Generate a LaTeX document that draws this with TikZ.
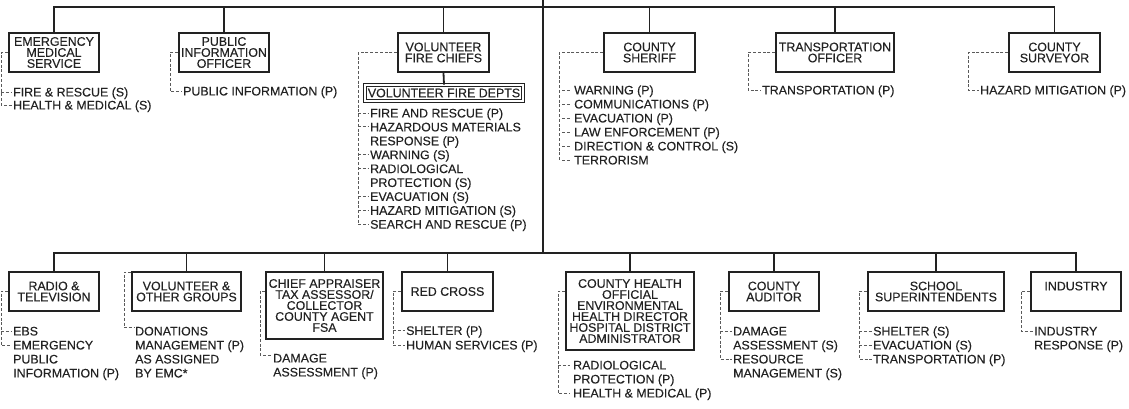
\documentclass[tikz,border=0pt]{standalone}
\usepackage{fontspec}
\setmainfont{Liberation Sans}
\newfontfamily\dfont{Liberation Sans}[FakeBold=0.25]
\usetikzlibrary{calc}
\definecolor{ink}{HTML}{222222}
\definecolor{dgray}{HTML}{5a5a5a}
\tikzset{
  bx/.style={draw=ink, line width=1.8pt, inner sep=0pt, align=center, text=ink,
    font=\dfont\fontsize{12.4}{11}\selectfont},
  itm/.style={anchor=west, inner sep=0pt, text=ink, text height=8.9pt, text depth=0pt,
    font=\dfont\fontsize{12.4}{14}\selectfont},
  bus/.style={draw=ink, line width=1.8pt},
  dsh/.style={draw=dgray, line width=0.9pt, dash pattern=on 3pt off 1.8pt},
}
\newcommand\itemlist[5]{%
  \foreach \t [count=\i from 0] in {#5} {\node[itm] (#1\i) at (#2, {#3+#4*\i}) {\t};}%
}
\begin{document}
\begin{tikzpicture}[x=1pt,y=-1pt]
\useasboundingbox (0,0) rectangle (1129,408);
\coordinate (topbus) at (0,7);
\coordinate (botbus) at (0,253);
\coordinate (ctop) at (543,0);

% top row boxes
\node[bx, minimum width=90pt, minimum height=39pt] (ems) at (54,52.5) {EMERGENCY\\MEDICAL\\SERVICE};
\node[bx, minimum width=90pt, minimum height=39pt] (pio) at (224,52.5) {PUBLIC\\INFORMATION\\OFFICER};
\node[bx, minimum width=91pt, minimum height=39pt] (vfc) at (443.5,52.5) {VOLUNTEER\\FIRE CHIEFS};
\node[bx, minimum width=91pt, minimum height=39pt] (sher) at (649.5,52.5) {COUNTY\\SHERIFF};
\node[bx, minimum width=118pt, minimum height=39pt] (trans) at (835,52.5) {TRANSPORTATION\\OFFICER};
\node[bx, minimum width=91pt, minimum height=39pt] (surv) at (1054.5,52.5) {COUNTY\\SURVEYOR};
\node[draw=ink, double=white, line width=0.9pt, double distance=1.4pt, inner sep=0pt,
  minimum width=158pt, minimum height=16pt, text=ink, font=\dfont\fontsize{12.4}{11}\selectfont]
  (vfd) at (444,93) {VOLUNTEER FIRE DEPTS};

% bottom row boxes
\node[bx, minimum width=90pt, minimum height=39pt] (tv) at (54,291.5) {RADIO \&\\TELEVISION};
\node[bx, minimum width=109pt, minimum height=39pt] (vog) at (186.5,291.5) {VOLUNTEER \&\\OTHER GROUPS};
\node[bx, minimum width=117pt, minimum height=67pt] (chief) at (324.5,305.5) {CHIEF APPRAISER\\TAX ASSESSOR/\\COLLECTOR\\COUNTY AGENT\\FSA};
\node[bx, minimum width=91pt, minimum height=39pt] (rc) at (447.5,291.5) {RED CROSS};
\node[bx, minimum width=128pt, minimum height=78pt] (hlth) at (630,311) {COUNTY HEALTH\\OFFICIAL\\ENVIRONMENTAL\\HEALTH DIRECTOR\\HOSPITAL DISTRICT\\ADMINISTRATOR};
\node[bx, minimum width=90pt, minimum height=39pt] (aud) at (774,291.5) {COUNTY\\AUDITOR};
\node[bx, minimum width=136pt, minimum height=39pt] (sch) at (936,291.5) {SCHOOL\\SUPERINTENDENTS};
\node[bx, minimum width=90pt, minimum height=39pt] (ind) at (1076,291.5) {INDUSTRY\\\mbox{}};

% solid connectors
\draw[bus] (ems.north) -- (ems.north |- topbus) -- (surv.north |- topbus) -- (surv.north);
\foreach \n in {pio,vfc,sher,trans} \draw[bus] (\n.north) -- (\n.north |- topbus);
\draw[bus] (ctop) -- (ctop |- botbus);
\draw[bus] (tv.north) -- (tv.north |- botbus) -- (ind.north |- botbus) -- (ind.north);
\foreach \n in {vog,chief,rc,hlth,aud,sch} \draw[bus] (\n.north) -- (\n.north |- botbus);
\draw[bus] (vfc.south) -- (vfd.north);

% item lists, top
\itemlist{e}{13}{92}{13}{FIRE \& RESCUE (S),HEALTH \& MEDICAL (S)}
\itemlist{p}{183}{91}{14}{PUBLIC INFORMATION (P)}
\itemlist{f}{370}{113}{13.9}{FIRE AND RESCUE (P),HAZARDOUS MATERIALS,RESPONSE (P),WARNING (S),RADIOLOGICAL,PROTECTION (S),EVACUATION (S),HAZARD MITIGATION (S),SEARCH AND RESCUE (P)}
\itemlist{s}{574}{90}{14}{WARNING (P),COMMUNICATIONS (P),EVACUATION (P),LAW ENFORCEMENT (P),DIRECTION \& CONTROL (S),TERRORISM}
\itemlist{t}{762}{90}{14}{TRANSPORTATION (P)}
\itemlist{v}{980}{90}{14}{HAZARD MITIGATION (P)}

% item lists, bottom
\itemlist{r}{13}{331}{14}{EBS,EMERGENCY,PUBLIC,INFORMATION (P)}
\itemlist{o}{135}{331}{14}{DONATIONS,MANAGEMENT (P),AS ASSIGNED,BY EMC*}
\itemlist{c}{273}{358}{14}{DAMAGE,ASSESSMENT (P)}
\itemlist{x}{406}{330.5}{14.5}{SHELTER (P),HUMAN SERVICES (P)}
\itemlist{h}{573}{365}{14}{RADIOLOGICAL,PROTECTION (P),HEALTH \& MEDICAL (P)}
\itemlist{a}{733}{331}{14}{DAMAGE,ASSESSMENT (S),RESOURCE,MANAGEMENT (S)}
\itemlist{k}{873}{331}{14}{SHELTER (S),EVACUATION (S),TRANSPORTATION (P)}
\itemlist{n}{1034}{331}{14}{INDUSTRY,RESPONSE (P)}

% dashed connectors, top
\coordinate (ev) at (1,0);
\draw[dsh] (ems.west) -| (ev |- e1.west) -- ([xshift=-1.5pt]e1.west);
\draw[dsh] (ev |- e0.west) -- ([xshift=-1.5pt]e0.west);

\coordinate (pv) at (170,0);
\draw[dsh] (pio.west) -| (pv |- p0.west) -- ([xshift=-1.5pt]p0.west);

\coordinate (fv) at (358,0);
\draw[dsh] (vfc.west) -| (fv |- f8.west) -- ([xshift=-1.5pt]f8.west);
\foreach \i in {0,1,3,4,6,7} \draw[dsh] (fv |- f\i.west) -- ([xshift=-1.5pt]f\i.west);

\coordinate (sv) at (559,0);
\draw[dsh] (sher.west) -| (sv |- s5.west);
\foreach \i in {0,...,5} \draw[dsh] ([xshift=3pt]sv |- s\i.west) -- ([xshift=-3pt]s\i.west);

\coordinate (tv0) at (748,0);
\draw[dsh] (trans.west) -| (tv0 |- t0.west) -- ([xshift=-1.5pt]t0.west);

\coordinate (vv) at (968,0);
\draw[dsh] (surv.west) -| (vv |- v0.west) -- ([xshift=-1.5pt]v0.west);

% dashed connectors, bottom
\coordinate (rv) at (1,0);
\draw[dsh] ([yshift=-20pt]tv.north west) -| (rv |- r1.west) -- ([xshift=-1.5pt]r1.west);
\draw[dsh] (rv |- r0.west) -- ([xshift=-1.5pt]r0.west);

\coordinate (ov) at (124,0);
\draw[dsh] ([yshift=-1pt]vog.north west) -| (ov |- 0,327.5) -- ([xshift=-1pt,yshift=3.5pt]o0.west);

\coordinate (cv) at (260,0);
\draw[dsh] ([yshift=-20pt]chief.north west) -| (cv |- 0,355) -- ([xshift=-1.5pt,yshift=3pt]c0.west);

\coordinate (xv) at (393,0);
\draw[dsh] ([yshift=-20pt]rc.north west) -| (xv |- x1.west) -- ([xshift=-1.5pt]x1.west);
\draw[dsh] (xv |- x0.west) -- ([xshift=-1.5pt]x0.west);

\coordinate (hv) at (558,0);
\draw[dsh] ([yshift=-20pt]hlth.north west) -| (hv |- h2.west) -- ([xshift=-3pt]h2.west);
\draw[dsh] (hv |- h0.west) -- ([xshift=-3pt]h0.west);

\coordinate (av) at (720,0);
\draw[dsh] ([yshift=-20pt]aud.north west) -| (av |- a2.west) -- ([xshift=-1.5pt]a2.west);
\draw[dsh] (av |- a0.west) -- ([xshift=-1.5pt]a0.west);

\coordinate (kv) at (859,0);
\draw[dsh] ([yshift=-20pt]sch.north west) -| (kv |- k2.west) -- ([xshift=-1.5pt]k2.west);
\foreach \i in {0,1} \draw[dsh] (kv |- k\i.west) -- ([xshift=-1.5pt]k\i.west);

\coordinate (nv) at (1021,0);
\draw[dsh] ([yshift=-20pt]ind.north west) -| (nv |- n0.west) -- ([xshift=-1.5pt]n0.west);
\end{tikzpicture}
\end{document}
